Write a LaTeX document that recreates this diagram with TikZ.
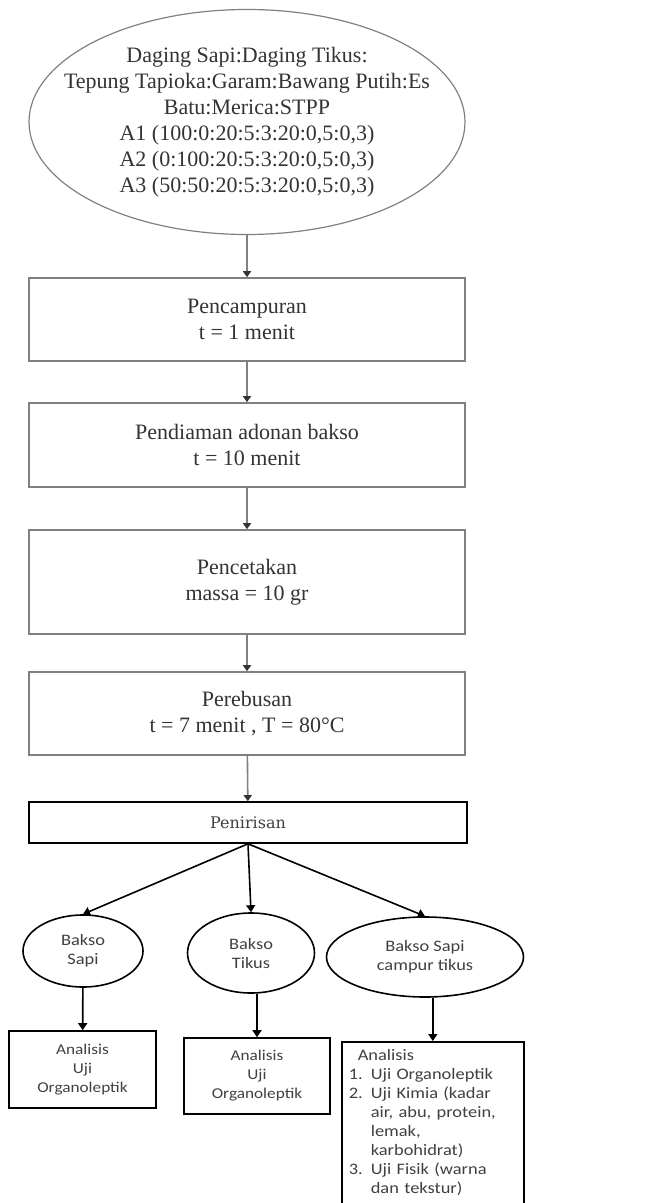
\documentclass[tikz,border=0pt]{standalone}
\usepackage{fontspec}
\setmainfont{Liberation Serif}
\newfontfamily\calibri[FakeStretch=1.15]{Carlito}
\newfontfamily\cambria{DejaVu Serif}
\usetikzlibrary{shapes.geometric,arrows.meta}
\begin{document}
\begin{tikzpicture}[x=0.5pt, y=-0.5pt,
        graybox/.style={draw=gray, thick, minimum width=218pt, align=center, text=black!80, font=\fontsize{11}{13}\selectfont},
        grayarrow/.style={draw=gray, thick, -{Triangle[width=4pt, length=3pt, color=black!80]}},
        oval/.style={draw, ellipse, thick, inner sep=0pt, align=center, text=black!75, font=\calibri\fontsize{8}{9.5}\selectfont},
        anbox/.style={draw, thick, align=center, text=black!75, font=\calibri\fontsize{7.5}{9.5}\selectfont},
        blackarrow/.style={thick, -{Triangle[width=4.5pt, length=3.5pt]}}]
        \useasboundingbox (0, 0) rectangle (651, 1203);
        \node[draw=gray, semithick, ellipse, minimum width=218pt, minimum height=112.5pt, inner sep=0pt] (bahan) at (247, 122) {};
        \node[align=center, text=black!80, font=\fontsize{11}{13}\selectfont] (bahantext) at (bahan.center) {Daging Sapi:Daging Tikus:\\Tepung Tapioka:Garam:Bawang Putih:Es\\Batu:Merica:STPP\\A1 (100:0:20:5:3:20:0,5:0,3)\\A2 (0:100:20:5:3:20:0,5:0,3)\\A3 (50:50:20:5:3:20:0,5:0,3)};
        \node[graybox, minimum height=41.5pt] (campur) at (247, 319.5) {Pencampuran\\t = 1 menit};
        \node[graybox, minimum height=42pt] (diam) at (247, 445) {Pendiaman adonan bakso\\t = 10 menit};
        \node[graybox, minimum height=52pt] (cetak) at (247, 582) {Pencetakan\\massa = 10 gr};
        \node[graybox, minimum height=41.5pt] (rebus) at (247, 713.5) {Perebusan\\t = 7 menit , T = 80°C};
        \node[draw, thick, minimum width=219pt, minimum height=20.5pt, text=black!75, font=\cambria\fontsize{8}{9}\selectfont] (tiris) at (248, 822.5) {Penirisan};
        \node[oval, minimum width=60pt, minimum height=36pt] (sapi) at (83, 951) {Bakso\\Sapi};
        \node[oval, minimum width=63.5pt, minimum height=40pt] (tikus) at (251, 953) {Bakso\\Tikus};
        \node[oval, minimum width=98.5pt, minimum height=40pt] (mix) at (425, 957) {Bakso Sapi\\campur tikus};
        \node[anbox, minimum width=73.5pt, minimum height=38.5pt] (ujisapi) at (82.5, 1069.5) {Analisis\\Uji\\Organoleptik};
        \node[anbox, minimum width=73pt, minimum height=38pt] (ujitikus) at (257, 1076) {Analisis\\Uji\\Organoleptik};
        \node[draw, thick, anchor=north west, text width=84pt, inner xsep=3.5pt, inner ysep=4pt, align=left, text=black!75, font=\calibri\fontsize{8}{9.5}\selectfont] (ujimix) at (341, 1041) {\hspace*{4.5pt}Analisis\\\makebox[11pt][l]{1.}Uji Organoleptik\\\makebox[11pt][l]{2.}Uji Kimia (kadar\\\hspace*{11pt}air, abu, protein,\\\hspace*{11pt}lemak,\\\hspace*{11pt}karbohidrat)\\\makebox[11pt][l]{3.}Uji Fisik (warna\\\hspace*{11pt}dan tekstur)};
        \draw[grayarrow] (bahan) -- (campur);
        \draw[grayarrow] (campur) -- (diam);
        \draw[grayarrow] (diam) -- (cetak);
        \draw[grayarrow] (cetak) -- (rebus);
        \draw[grayarrow] (rebus) -- (tiris);
        \draw[blackarrow] (tiris.south) -- (sapi.north);
        \draw[blackarrow] (tiris.south) -- (tikus.north);
        \draw[blackarrow] (tiris.south) -- (mix.north);
        \draw[blackarrow] (sapi) -- (ujisapi);
        \draw[blackarrow] (tikus.south -| ujitikus.north) -- (ujitikus.north);
        \draw[blackarrow] (mix.south -| ujimix.north) -- (ujimix.north);
    \end{tikzpicture}
\end{document}
